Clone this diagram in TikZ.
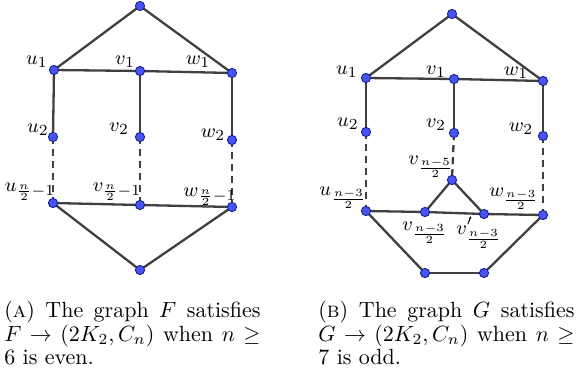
\documentclass[tikz,border=0pt]{standalone}
\usepackage{tikz}
\usetikzlibrary{positioning}
\usepackage{amsmath,amssymb}
\usepackage{xcolor}

\definecolor{ptblue}{RGB}{72,84,242}
\definecolor{ptedge}{RGB}{22,30,140}
\definecolor{edgegray}{RGB}{64,64,64}

\begin{document}
\begin{tikzpicture}[
  x=0.455pt, y=-0.455pt,
  vtx/.style={circle, fill=ptblue, draw=ptedge, line width=0.4pt, inner sep=0pt, minimum size=4.2pt},
  edge/.style={draw=edgegray, line width=1.05pt},
  dashedge/.style={edge, dash pattern=on 3.2pt off 2.3pt},
  lbl/.style={inner sep=0pt, font=\fontsize{9.5}{10}\selectfont},
  capt/.style={inner sep=0pt, anchor=north west, text width=116.5pt, align=justify, font=\fontsize{10}{10.6}\selectfont}
]
\useasboundingbox (0,0) rectangle (576,382);

% graph F
\foreach \nm/\x/\y in {fT/140/6, fu1/54/70, fv1/140/71, fw1/232/73, fu2/53/137, fv2/140/137, fw2/232/140,
  fuk/53/203, fvk/140/205, fwk/232/207, fB/140/270}
  \coordinate (\nm) at (\x,\y);
\foreach \a/\b in {fT/fu1, fT/fw1, fu1/fv1, fv1/fw1, fu1/fu2, fv1/fv2, fw1/fw2, fuk/fvk, fvk/fwk, fuk/fB, fwk/fB}
  \draw[edge] (\a) -- (\b);
\foreach \a/\b in {fu2/fuk, fv2/fvk, fw2/fwk}
  \draw[dashedge] (\a) -- (\b);
\foreach \nm in {fT, fu1, fv1, fw1, fu2, fv2, fw2, fuk, fvk, fwk, fB}
  \node[vtx] (n\nm) at (\nm) {};
\node[lbl] (lfu1) at (37,62) {$u_1$};
\node[lbl] (lfv1) at (125,62) {$v_1$};
\node[lbl] (lfw1) at (198,62) {$w_1$};
\node[lbl] (lfu2) at (38,130) {$u_2$};
\node[lbl] (lfv2) at (119,129) {$v_2$};
\node[lbl] (lfw2) at (213,135) {$w_2$};
\node[lbl] (lfuk) at (30,192) {$u_{\frac{n}{2}-1}$};
\node[lbl] (lfvk) at (117,192) {$v_{\frac{n}{2}-1}$};
\node[lbl] (lfwk) at (210,197) {$w_{\frac{n}{2}-1}$};

% graph G
\foreach \nm/\x/\y in {gT/452/14, gu1/366/78, gv1/454/79, gw1/543/81, gu2/366/132, gv2/454/133, gw2/543/136,
  gva/452/180, guk/366/211, gvb/425/212, gvc/484/214, gwk/543/215, gb1/425/273, gb2/484/273}
  \coordinate (\nm) at (\x,\y);
\foreach \a/\b in {gT/gu1, gT/gw1, gu1/gv1, gv1/gw1, gu1/gu2, gv1/gv2, gw1/gw2, gva/gvb, gva/gvc,
  guk/gvb, gvb/gvc, gvc/gwk, guk/gb1, gb1/gb2, gb2/gwk}
  \draw[edge] (\a) -- (\b);
\foreach \a/\b in {gu2/guk, gv2/gva, gw2/gwk}
  \draw[dashedge] (\a) -- (\b);
\foreach \nm in {gT, gu1, gv1, gw1, gu2, gv2, gw2, gva, guk, gvb, gvc, gwk, gb1, gb2}
  \node[vtx] (n\nm) at (\nm) {};
\node[lbl] (lgu1) at (347,72) {$u_1$};
\node[lbl] (lgv1) at (436,72) {$v_1$};
\node[lbl] (lgw1) at (516,73) {$w_1$};
\node[lbl] (lgu2) at (348,124) {$u_2$};
\node[lbl] (lgv2) at (436,125) {$v_2$};
\node[lbl] (lgw2) at (521,129) {$w_2$};
\node[lbl] (lgva) at (431,167) {$v_{\frac{n-5}{2}}$};
\node[lbl] (lguk) at (343,198) {$u_{\frac{n-3}{2}}$};
\node[lbl] (lgvb) at (425,233) {$v_{\frac{n-3}{2}}$};
\node[lbl] (lgvc) at (479,233) {$v'_{\frac{n-3}{2}}$};
\node[lbl] (lgwk) at (514,199) {$w_{\frac{n-3}{2}}$};

% captions
\node[capt] (captF) at (4,301) {(\textsc{a}) The graph $F$ satisfies $F\rightarrow(2K_2,C_n)$ when $n\geq 6$ is even.};
\node[capt] (captG) at (318,301) {(\textsc{b}) The graph $G$ satisfies $G\rightarrow(2K_2,C_n)$ when $n\geq 7$ is odd.};
\end{tikzpicture}
\end{document}
